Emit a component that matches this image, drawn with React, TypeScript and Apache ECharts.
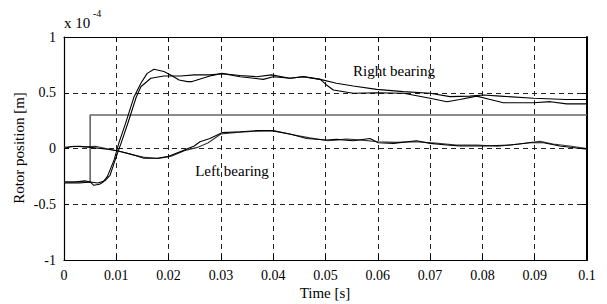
import React, { useEffect, useRef } from "react";
import * as echarts from "echarts";

// Time in s, position in units of 1e-4 m
const rightBearingA: [number, number][] = [
  [0, -0.3], [0.002, -0.3], [0.004, -0.29], [0.005, -0.3], [0.0057, -0.33], [0.0068, -0.32],
  [0.0075, -0.3], [0.0083, -0.25], [0.0096, -0.1], [0.0105, 0.05], [0.0118, 0.23], [0.0134, 0.465],
  [0.0147, 0.585], [0.0159, 0.674], [0.0172, 0.71], [0.0191, 0.69], [0.0204, 0.66], [0.022, 0.614],
  [0.0236, 0.6], [0.0245, 0.6], [0.0279, 0.65], [0.0302, 0.674], [0.0337, 0.644], [0.0381, 0.62],
  [0.04, 0.644], [0.0432, 0.63], [0.0458, 0.644], [0.049, 0.62], [0.0502, 0.57], [0.0515, 0.525],
  [0.0553, 0.495], [0.0598, 0.5], [0.0649, 0.495], [0.07, 0.45], [0.0732, 0.42], [0.0757, 0.44],
  [0.0789, 0.47], [0.0815, 0.44], [0.084, 0.41], [0.0898, 0.41], [0.093, 0.42], [0.0961, 0.4], [0.1, 0.4],
];

const rightBearingB: [number, number][] = [
  [0, -0.31], [0.003, -0.31], [0.005, -0.3], [0.0065, -0.31], [0.0078, -0.29], [0.0088, -0.24],
  [0.0101, -0.06], [0.011, 0.06], [0.0123, 0.24], [0.0138, 0.46], [0.0147, 0.554], [0.0166, 0.63],
  [0.0191, 0.65], [0.0223, 0.65], [0.0249, 0.66], [0.0279, 0.66], [0.0304, 0.67], [0.0337, 0.655],
  [0.0368, 0.644], [0.0397, 0.66], [0.0432, 0.63], [0.0458, 0.645], [0.049, 0.62], [0.0521, 0.585],
  [0.0553, 0.56], [0.0598, 0.53], [0.0649, 0.51], [0.07, 0.495], [0.0738, 0.465], [0.0776, 0.47],
  [0.0802, 0.48], [0.0834, 0.47], [0.0898, 0.45], [0.0961, 0.44], [0.1, 0.44],
];

const leftBearingA: [number, number][] = [
  [0, 0.0], [0.0013, 0.016], [0.003, 0.02], [0.0051, 0.01], [0.0083, -0.007], [0.0102, -0.02],
  [0.0127, -0.05], [0.0153, -0.088], [0.0178, -0.088], [0.0198, -0.073], [0.0223, -0.028],
  [0.0249, 0.022], [0.026, 0.06], [0.0279, 0.09], [0.0302, 0.142], [0.0337, 0.15], [0.0368, 0.16],
  [0.0397, 0.16], [0.0432, 0.13], [0.0464, 0.09], [0.0502, 0.076], [0.0521, 0.082], [0.0553, 0.07],
  [0.0585, 0.09], [0.0601, 0.052], [0.063, 0.046], [0.0674, 0.07], [0.07, 0.046], [0.0732, 0.031],
  [0.0757, 0.022], [0.0802, 0.022], [0.0853, 0.031], [0.0891, 0.052], [0.0917, 0.052],
  [0.0948, 0.022], [0.1, -0.007],
];

const leftBearingB: [number, number][] = [
  [0, 0.01], [0.002, 0.02], [0.004, 0.015], [0.006, 0.02], [0.008, 0.0], [0.0105, -0.025],
  [0.013, -0.055], [0.0155, -0.08], [0.018, -0.09], [0.0205, -0.07], [0.023, -0.02], [0.0255, 0.01],
  [0.0275, 0.05], [0.03, 0.13], [0.033, 0.145], [0.0365, 0.155], [0.04, 0.16], [0.0435, 0.125],
  [0.047, 0.095], [0.0505, 0.07], [0.054, 0.085], [0.057, 0.075], [0.06, 0.06], [0.0635, 0.055],
  [0.067, 0.06], [0.071, 0.05], [0.075, 0.03], [0.079, 0.03], [0.083, 0.02], [0.087, 0.04],
  [0.091, 0.065], [0.0935, 0.04], [0.097, 0.02], [0.1, 0.0],
];

const reference: [number, number][] = [
  [0, -0.3], [0.005, -0.3], [0.005, 0.3], [0.1, 0.3],
];

const xTicks = { min: 0, max: 0.1, interval: 0.01 };
const yTicks = { min: -1, max: 1, interval: 0.5 };

const FONT = "'Times New Roman', 'Liberation Serif', serif";

export default function App() {
  const ref = useRef<HTMLDivElement>(null);
  useEffect(() => {
    if (!ref.current) return;
    const chart = echarts.init(ref.current, undefined, { renderer: "svg" });
    const fmt = (v: number) => String(parseFloat(v.toFixed(4)));
    const gridDash = { show: true, lineStyle: { color: "#222", width: 1, type: [5, 4] as any } };
    const line = (data: [number, number][], color: string, width = 1) => ({
      type: "line" as const,
      data,
      showSymbol: false,
      symbol: "none",
      lineStyle: { color, width },
      silent: true,
    });
    chart.setOption({
      animation: false,
      backgroundColor: "#fff",
      textStyle: { fontFamily: FONT },
      grid: { left: 64, top: 37, width: 523, height: 223, containLabel: false },
      xAxis: [
        {
          type: "value", ...xTicks, position: "bottom",
          axisLine: { show: true, onZero: false, lineStyle: { color: "#000", width: 1.2 } },
          axisTick: { show: true, inside: true, length: 5, lineStyle: { color: "#000" } },
          axisLabel: { formatter: fmt, color: "#000", fontFamily: FONT, fontSize: 14, margin: 8 },
          splitLine: gridDash,
        },
        {
          type: "value", ...xTicks, position: "top",
          axisLine: { show: true, onZero: false, lineStyle: { color: "#000", width: 1 } },
          axisTick: { show: true, inside: true, length: 5, lineStyle: { color: "#000" } },
          axisLabel: { show: false },
          splitLine: { show: false },
        },
      ],
      yAxis: [
        {
          type: "value", ...yTicks, position: "left",
          axisLine: { show: true, onZero: false, lineStyle: { color: "#000", width: 1.2 } },
          axisTick: { show: true, inside: true, length: 5, lineStyle: { color: "#000" } },
          axisLabel: { formatter: fmt, color: "#000", fontFamily: FONT, fontSize: 14, margin: 8 },
          splitLine: gridDash,
        },
        {
          type: "value", ...yTicks, position: "right",
          axisLine: { show: true, onZero: false, lineStyle: { color: "#000", width: 2 } },
          axisTick: { show: true, inside: true, length: 5, lineStyle: { color: "#000" } },
          axisLabel: { show: false },
          splitLine: { show: false },
        },
      ],
      series: [
        line(reference, "#666", 1.6),
        line(leftBearingB, "#333", 1.1),
        line(leftBearingA, "#000", 1.1),
        line(rightBearingB, "#000", 1.1),
        line(rightBearingA, "#000", 1.1),
      ],
      graphic: [
        { type: "text", x: 64, y: 30, style: { text: "x 10", fontFamily: FONT, fontSize: 15, fill: "#000", textVerticalAlign: "bottom" } },
        { type: "text", x: 93, y: 18, style: { text: "-4", fontFamily: FONT, fontSize: 10, fill: "#000", textVerticalAlign: "bottom" } },
        { type: "text", x: 394, y: 71, style: { text: "Right bearing", fontFamily: FONT, fontSize: 15, fill: "#000", textAlign: "center", textVerticalAlign: "middle" } },
        { type: "text", x: 232, y: 171, style: { text: "Left bearing", fontFamily: FONT, fontSize: 15, fill: "#000", textAlign: "center", textVerticalAlign: "middle" } },
        { type: "text", x: 325, y: 293, style: { text: "Time [s]", fontFamily: FONT, fontSize: 15, fill: "#000", textAlign: "center", textVerticalAlign: "middle" } },
        { type: "text", x: 19, y: 148, rotation: Math.PI / 2, style: { text: "Rotor position [m]", fontFamily: FONT, fontSize: 15, fill: "#000", textAlign: "center", textVerticalAlign: "middle" } },
      ],
    });
    return () => chart.dispose();
  }, []);
  return <div ref={ref} style={{ width: 607, height: 304, position: "absolute", left: 0, top: 0 }} />;
}
